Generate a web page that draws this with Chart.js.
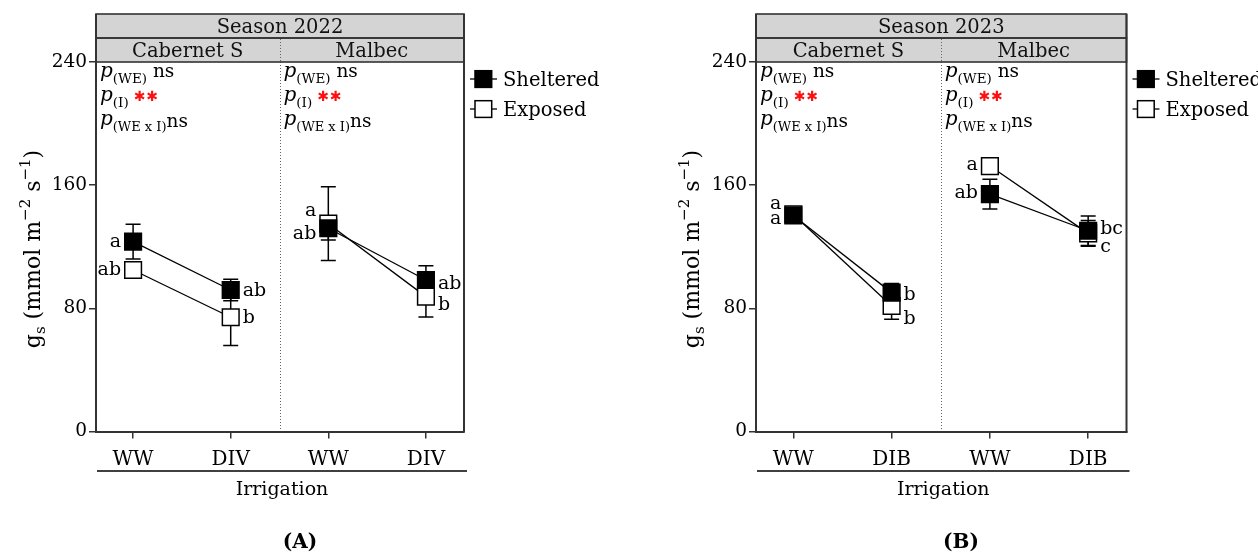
<!DOCTYPE html>
<html><head><meta charset="utf-8">
<script src="https://cdn.jsdelivr.net/npm/chart.js@4.4.1/dist/chart.umd.min.js"></script>
<style>
html,body{margin:0;padding:0;background:#fff;width:1258px;height:556px;overflow:hidden}
canvas{position:absolute;top:0}
#cA{left:0}
#cB{left:640px}
</style></head><body>
<canvas id="cA" width="640" height="556"></canvas>
<canvas id="cB" width="618" height="556"></canvas>
<script>
// ---------------- data ----------------
const seasonTitles = ['Season 2022', 'Season 2023'];
const cultivars = ['Cabernet S', 'Malbec'];
const irrigation2022 = ['WW', 'DIV', 'WW', 'DIV'];
const irrigation2023 = ['WW', 'DIB', 'WW', 'DIB'];
const yTickValues = [0, 80, 160, 240];
const seriesNames = ['Sheltered', 'Exposed'];
const panelLabels = ['(A)', '(B)'];
const xAxisTitle = 'Irrigation';

// means and error (per category: Cab WW, Cab DI, Malbec WW, Malbec DI)
const sheltered2022 = [123.3, 91.9, 132.0, 98.4];
const shelteredErr2022 = [11.3, 7.0, 7.6, 9.3];
const exposed2022 = [104.9, 74.2, 135.0, 87.6];
const exposedErr2022 = [3.0, 18.3, 24.0, 13.3];

const sheltered2023 = [140.3, 90.2, 154.2, 130.4];
const shelteredErr2023 = [2.5, 6.0, 9.7, 9.6];
const exposed2023 = [141.0, 81.5, 172.4, 128.7];
const exposedErr2023 = [2.5, 8.6, 4.7, 8.3];

// significance letters
const lettersSheltered2022 = ['a', 'ab', 'ab', 'ab'];
const lettersExposed2022 = ['ab', 'b', 'a', 'b'];
const lettersSheltered2023 = ['a', 'b', 'ab', 'bc'];
const lettersExposed2023 = ['a', 'b', 'a', 'c'];

// ANOVA annotations per cultivar
const pWE = ['ns', 'ns'];
const pI = ['**', '**'];
const pWExI = ['ns', 'ns'];

// ---------------- layout / style (not data) ----------------
const SERIF = '"DejaVu Serif", serif';
const nudgeA = { s: [0, 0, 5, 3], e: [0, 0, -13, 8] };
const nudgeB = { s: [3, 2, -2, -2], e: [-11, 12, -2, 13] };

function richWidth(ctx, parts) {
  let w = 0;
  for (const p of parts) { ctx.font = p.font; w += ctx.measureText(p.t).width; }
  return w;
}
function drawRich(ctx, parts, x, y) {
  for (const p of parts) {
    ctx.font = p.font;
    ctx.fillStyle = p.color || '#000';
    ctx.fillText(p.t, x, y + (p.dy || 0));
    x += ctx.measureText(p.t).width;
  }
  return x;
}

function makePanel(canvasId, cfg) {
  const ctx = document.getElementById(canvasId).getContext('2d');
  const datasets = [];
  const series = [
    { vals: cfg.sheltered, errs: cfg.shelteredErr, fill: '#000', letters: cfg.lettersS, nudge: cfg.nudge.s },
    { vals: cfg.exposed, errs: cfg.exposedErr, fill: '#fff', letters: cfg.lettersE, nudge: cfg.nudge.e }
  ];
  series.forEach((s) => {
    [[0, 1], [2, 3]].forEach(([a, b]) => {
      datasets.push({
        data: [{ x: a, y: s.vals[a] }, { x: b, y: s.vals[b] }],
        errors: [s.errs[a], s.errs[b]],
        letters: [s.letters[a], s.letters[b]],
        nudge: [s.nudge[a], s.nudge[b]],
        borderColor: '#000', borderWidth: 1.3,
        backgroundColor: s.fill, pointBackgroundColor: s.fill,
        pointBorderColor: '#000', pointBorderWidth: 1.5,
        pointStyle: 'rect', pointRadius: 11.8, pointHoverRadius: 11.8,
        fill: false, tension: 0
      });
    });
  });

  const decor = {
    id: 'decor',
    beforeDatasetsDraw(chart) {
      const { ctx, chartArea: ca, scales: { x, y } } = chart;
      ctx.save();
      const dx = Math.round(x.getPixelForValue(1.5)) + 0.5;
      ctx.strokeStyle = '#666'; ctx.lineWidth = 1; ctx.setLineDash([1, 2]);
      ctx.beginPath(); ctx.moveTo(dx, ca.top - 24); ctx.lineTo(dx, ca.bottom - 1); ctx.stroke();
      ctx.setLineDash([]);
      ctx.strokeStyle = '#000'; ctx.lineWidth = 1.5;
      chart.data.datasets.forEach(d => d.data.forEach((pt, i) => {
        const px = x.getPixelForValue(pt.x);
        const e = d.errors[i];
        const y1 = y.getPixelForValue(pt.y + e), y2 = y.getPixelForValue(pt.y - e);
        ctx.beginPath();
        ctx.moveTo(px, y1); ctx.lineTo(px, y2);
        ctx.moveTo(px - 7.5, y1); ctx.lineTo(px + 7.5, y1);
        ctx.moveTo(px - 7.5, y2); ctx.lineTo(px + 7.5, y2);
        ctx.stroke();
      }));
      ctx.restore();
    },
    afterDraw(chart) {
      const { ctx, chartArea: ca, scales: { x, y } } = chart;
      ctx.save();
      const L = ca.left, R = ca.right, T = ca.top, B = ca.bottom;
      const dx = x.getPixelForValue(1.5);
      ctx.fillStyle = '#d4d4d4';
      ctx.fillRect(L, T - 48, R - L, 48);
      ctx.strokeStyle = '#333'; ctx.lineWidth = 1.6;
      ctx.strokeRect(L, T - 48, R - L, 24);
      ctx.strokeRect(L, T - 24, R - L, 24);
      ctx.strokeStyle = '#666'; ctx.lineWidth = 1; ctx.setLineDash([1, 2]);
      ctx.beginPath(); ctx.moveTo(Math.round(dx) + 0.5, T - 23); ctx.lineTo(Math.round(dx) + 0.5, T - 1); ctx.stroke();
      ctx.setLineDash([]);
      ctx.strokeStyle = '#333'; ctx.lineWidth = 2;
      ctx.beginPath(); ctx.moveTo(R, T - 48); ctx.lineTo(R, B + 1); ctx.stroke();
      ctx.beginPath(); ctx.moveTo(L, T - 48); ctx.lineTo(L, T); ctx.stroke();
      ctx.fillStyle = '#111'; ctx.textAlign = 'center'; ctx.textBaseline = 'alphabetic';
      ctx.font = '19.5px ' + SERIF;
      ctx.fillText(cfg.season, (L + R) / 2, T - 29.5);
      ctx.fillText(cultivars[0], (L + dx) / 2, T - 5.5);
      ctx.fillText(cultivars[1], (dx + R) / 2, T - 5.5);

      ctx.textAlign = 'left';
      const pF = 'italic 20px ' + SERIF, sF = '13.5px ' + SERIF, nF = '18.5px ' + SERIF;
      [L + 4, dx + 4].forEach((x0, ci) => {
        drawRich(ctx, [{ t: 'p', font: pF }, { t: '(WE)', font: sF, dy: 5.5 }, { t: ' ' + pWE[ci], font: nF }], x0, T + 15);
        const xe = drawRich(ctx, [{ t: 'p', font: pF }, { t: '(I)', font: sF, dy: 5.5 }], x0, T + 39);
        ctx.fillStyle = '#ff1010'; ctx.font = 'bold 14px "DejaVu Sans"'; ctx.textAlign = 'center'; ctx.textBaseline = 'middle';
        const nStars = pI[ci].length;
        for (let k = 0; k < nStars; k++) ctx.fillText('\u2731', xe + 11 + k * 12.5, T + 35);
        ctx.textAlign = 'left'; ctx.textBaseline = 'alphabetic';
        drawRich(ctx, [{ t: 'p', font: pF }, { t: '(WE x I)', font: '13px ' + SERIF, dy: 6 }, { t: pWExI[ci], font: nF, dy: 1.5 }], x0, T + 63);
      });

      ctx.font = '19px ' + SERIF; ctx.fillStyle = '#000'; ctx.textBaseline = 'alphabetic';
      chart.data.datasets.forEach(d => d.data.forEach((pt, i) => {
        const px = x.getPixelForValue(pt.x), py = y.getPixelForValue(pt.y) + d.nudge[i];
        const left = pt.x % 2 === 0;
        ctx.textAlign = left ? 'right' : 'left';
        ctx.fillText(d.letters[i], left ? px - 12 : px + 12, py + 5.5);
      }));

      const lx = R + 6;
      [[T + 17, '#000', seriesNames[0]], [T + 47, '#fff', seriesNames[1]]].forEach(([ly, fill, name]) => {
        ctx.strokeStyle = '#000'; ctx.lineWidth = 1.3;
        ctx.beginPath(); ctx.moveTo(lx, ly); ctx.lineTo(lx + 27, ly); ctx.stroke();
        ctx.fillStyle = fill; ctx.lineWidth = 1.5;
        ctx.fillRect(lx + 5, ly - 8.3, 16.7, 16.7); ctx.strokeRect(lx + 5, ly - 8.3, 16.7, 16.7);
        ctx.fillStyle = '#000'; ctx.font = '19.5px ' + SERIF; ctx.textAlign = 'left'; ctx.textBaseline = 'alphabetic';
        ctx.fillText(name, lx + 33, ly + 7);
      });

      const tF = '22px ' + SERIF, supF = '15px ' + SERIF;
      const parts = [{ t: 'g', font: tF }, { t: 's', font: supF, dy: 5 }, { t: ' (mmol m', font: tF },
        { t: '\u22122', font: supF, dy: -10 }, { t: ' s', font: tF }, { t: '\u22121', font: supF, dy: -10 }, { t: ')', font: tF }];
      const w = richWidth(ctx, parts);
      ctx.save();
      ctx.translate(cfg.yTitleX, 249);
      ctx.rotate(-Math.PI / 2);
      ctx.textAlign = 'left'; ctx.textBaseline = 'alphabetic';
      drawRich(ctx, parts, -w / 2, 7);
      ctx.restore();

      ctx.strokeStyle = '#000'; ctx.lineWidth = 1.5;
      ctx.beginPath(); ctx.moveTo(L + 1, 471); ctx.lineTo(R + 3, 471); ctx.stroke();
      ctx.fillStyle = '#000'; ctx.textAlign = 'center'; ctx.textBaseline = 'middle';
      ctx.font = '19px ' + SERIF;
      ctx.fillText(xAxisTitle, (L + R) / 2 + 2, 490);
      ctx.font = 'bold 20px ' + SERIF;
      ctx.fillText(cfg.panelLabel, cfg.panelLabelX, 543);
      ctx.restore();
    }
  };

  return new Chart(ctx, {
    type: 'line',
    data: { datasets },
    options: {
      responsive: false, animation: false,
      layout: { padding: { left: 0, right: cfg.padRight, top: 62, bottom: 84.5 } },
      plugins: { legend: { display: false }, tooltip: { enabled: false } },
      events: [],
      scales: {
        x: {
          type: 'linear', min: -0.38, max: 3.39,
          afterBuildTicks: (s) => { s.ticks = [0, 1, 2, 3].map(v => ({ value: v })); },
          afterFit: (s) => { s.height = 40; },
          ticks: { callback: (v) => cfg.categories[v], color: '#000', font: { family: SERIF, size: 20 }, padding: 9, maxRotation: 0, autoSkip: false },
          grid: { display: true, drawOnChartArea: false, drawTicks: true, tickLength: 7, color: '#333', lineWidth: 1.5 },
          border: { display: true, color: '#333', width: 2 }
        },
        y: {
          type: 'linear', min: 0, max: 240,
          afterBuildTicks: (s) => { s.ticks = yTickValues.map(v => ({ value: v })); },
          afterFit: (s) => { s.width = cfg.yAxisWidth; },
          ticks: { color: '#000', font: { family: SERIF, size: 18.5 }, padding: 2 },
          grid: { display: true, drawOnChartArea: false, drawTicks: true, tickLength: 7, color: '#333', lineWidth: 1.5 },
          border: { display: true, color: '#333', width: 2 }
        }
      }
    },
    plugins: [decor]
  });
}

makePanel('cA', {
  season: seasonTitles[0], categories: irrigation2022,
  sheltered: sheltered2022, shelteredErr: shelteredErr2022,
  exposed: exposed2022, exposedErr: exposedErr2022,
  lettersS: lettersSheltered2022, lettersE: lettersExposed2022, nudge: nudgeA,
  padRight: 176, yAxisWidth: 96, yTitleX: 33, panelLabel: panelLabels[0], panelLabelX: 300
});
makePanel('cB', {
  season: seasonTitles[1], categories: irrigation2023,
  sheltered: sheltered2023, shelteredErr: shelteredErr2023,
  exposed: exposed2023, exposedErr: exposedErr2023,
  lettersS: lettersSheltered2023, lettersE: lettersExposed2023, nudge: nudgeB,
  padRight: 131.5, yAxisWidth: 116, yTitleX: 52, panelLabel: panelLabels[1], panelLabelX: 321
});
</script>
</body></html>
